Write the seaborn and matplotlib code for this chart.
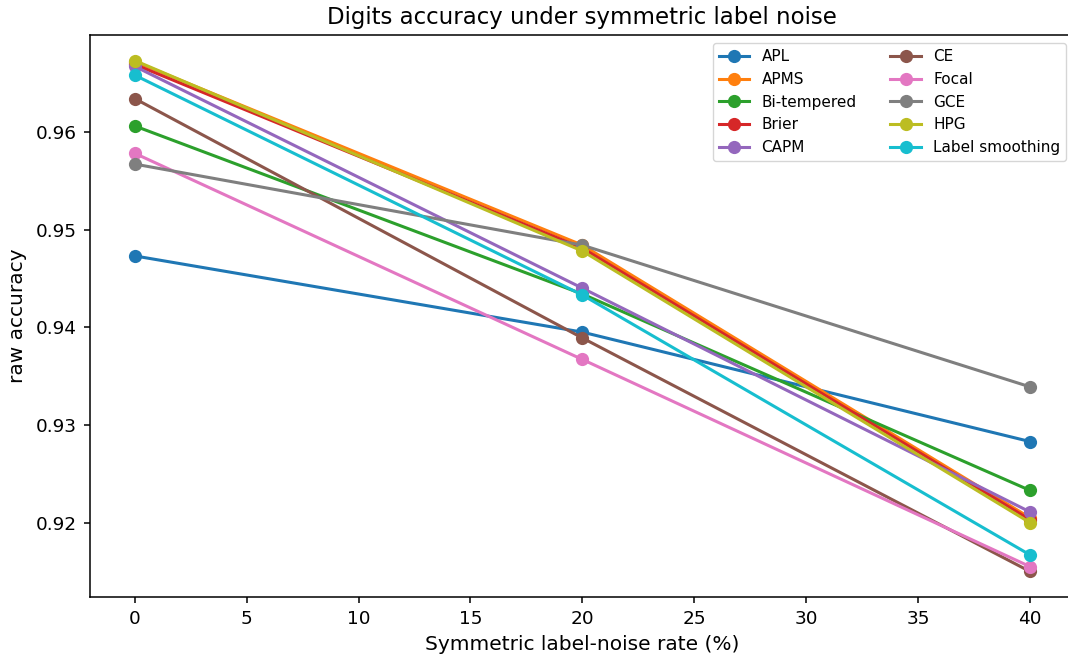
import matplotlib
matplotlib.use("Agg")
import matplotlib.pyplot as plt
import seaborn as sns
import pandas as pd

noise_rates = [0, 20, 40]
methods = ["APL", "APMS", "Bi-tempered", "Brier", "CAPM",
           "CE", "Focal", "GCE", "HPG", "Label smoothing"]

apl = [0.9473, 0.9395, 0.9283]
apms = [0.9672, 0.9484, 0.9205]
bi_tempered = [0.9606, 0.9434, 0.9233]
brier = [0.9669, 0.9481, 0.9203]
capm = [0.9667, 0.9440, 0.9211]
ce = [0.9634, 0.9389, 0.9150]
focal = [0.9578, 0.9367, 0.9155]
gce = [0.9567, 0.9484, 0.9339]
hpg = [0.9673, 0.9478, 0.9200]
label_smoothing = [0.9658, 0.9433, 0.9167]

series = [apl, apms, bi_tempered, brier, capm, ce, focal, gce, hpg, label_smoothing]

rows = []
for name, vals in zip(methods, series):
    for r, v in zip(noise_rates, vals):
        rows.append({"method": name, "rate": r, "acc": v})
df = pd.DataFrame(rows)

fig, ax = plt.subplots(figsize=(10.68, 6.55), dpi=100)
sns.lineplot(data=df, x="rate", y="acc", hue="method", hue_order=methods,
             palette="tab10", marker="o", markersize=9.5, markeredgewidth=0,
             linewidth=2.2, ax=ax)

ax.set_title("Digits accuracy under symmetric label noise", fontsize=16.5, pad=8)
ax.set_xlabel("Symmetric label-noise rate (%)", fontsize=14.5, labelpad=5)
ax.set_ylabel("raw accuracy", fontsize=14.5, labelpad=6)
ax.tick_params(labelsize=13.3, length=4.5, width=1.1, pad=5)
for s in ax.spines.values():
    s.set_linewidth(1.1)
ax.set_xticks([0, 5, 10, 15, 20, 25, 30, 35, 40])
ax.set_yticks([0.92, 0.93, 0.94, 0.95, 0.96])
ax.legend(ncol=2, loc="upper right", fontsize=11, title=None,
          borderaxespad=0.55, columnspacing=2.2)

fig.subplots_adjust(left=0.0843, right=1.0063, top=0.9466, bottom=0.0885)
fig.savefig("out.png", dpi=100)
